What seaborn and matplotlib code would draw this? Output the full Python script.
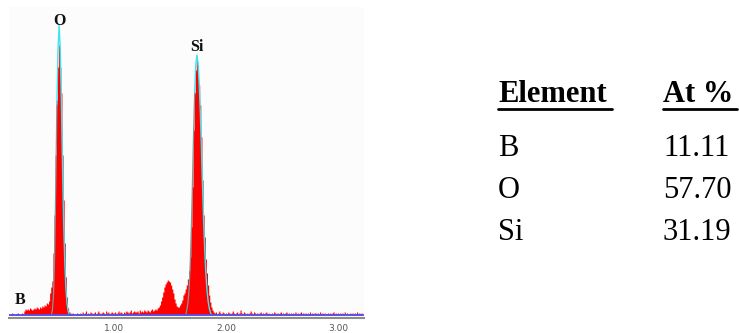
import numpy as np
import pandas as pd
import matplotlib
matplotlib.use("Agg")
import matplotlib.pyplot as plt
import seaborn as sns
from matplotlib.lines import Line2D

sns.set_style("white")

# EDS spectrum, counts per 0.01 keV channel starting at 0.06 keV
start_kev = 0.06
step_kev = 0.01
counts = [
    1, 0, 1, 2,
    1, 0, 1, 1, 2, 1, 0, 1, 2, 1,
    4, 6, 5, 6, 5, 7, 6, 5, 6, 7,
    6, 8, 7, 6, 8, 7, 9, 8, 10, 9,
    12, 11, 14, 22, 28, 34, 62, 100, 160, 215,
    248, 270, 248, 222, 160, 115, 72, 38, 18, 7,
    3, 2, 1, 2, 1, 0, 1, 2, 1, 1,
    2, 1, 3, 1, 2, 4, 1, 2, 1, 3,
    2, 1, 2, 3, 1, 2, 4, 2, 1, 2,
    3, 2, 1, 4, 2, 3, 1, 2, 3, 2,
    2, 3, 1, 2, 4, 2, 3, 2, 1, 3,
    2, 4, 3, 2, 3, 5, 2, 3, 4, 3,
    3, 4, 2, 5, 3, 4, 3, 5, 4, 3,
    5, 4, 3, 5, 6, 4, 5, 6, 5, 7,
    8, 10, 14, 18, 23, 28, 31, 33, 35, 34,
    33, 30, 26, 22, 16, 12, 9, 8, 8, 10,
    12, 15, 20, 22, 26, 30, 36, 44, 58, 88,
    128, 185, 222, 245, 258, 250, 230, 210, 178, 135,
    100, 78, 56, 42, 30, 20, 13, 8, 5, 3,
    2, 3, 1, 2, 4, 2, 1, 3, 2, 1,
    2, 1, 3, 2, 1, 2, 4, 2, 1, 2,
    3, 1, 2, 5, 2, 1, 3, 2, 1, 2,
    1, 2, 4, 2, 1, 3, 2, 1, 2, 1,
    2, 3, 1, 2, 1, 2, 3, 1, 2, 1,
    1, 2, 1, 3, 2, 1, 2, 1, 2, 3,
    1, 2, 1, 2, 3, 1, 2, 1, 2, 1,
    2, 1, 3, 1, 2, 1, 2, 3, 1, 2,
    1, 2, 1, 2, 1, 3, 1, 2, 1, 2,
    2, 1, 2, 1, 3, 1, 2, 1, 2, 1,
    1, 2, 1, 2, 1, 2, 3, 1, 2, 1,
    2, 1, 2, 1, 2, 1, 3, 1, 2, 1,
    1, 2, 1, 2, 1, 2, 1, 3, 1, 2,
    1, 2,
]

# fitted peak profiles (cyan)
o_fit_kev = [0.44, 0.45, 0.46, 0.47, 0.48, 0.49, 0.50, 0.51, 0.52, 0.53, 0.54,
             0.55, 0.56, 0.57, 0.58, 0.59, 0.60]
o_fit_counts = [0, 5, 20, 60, 130, 210, 265, 290, 265, 215, 150, 95, 55, 28, 12, 4, 0]
si_fit_kev = [1.64, 1.65, 1.66, 1.67, 1.68, 1.69, 1.70, 1.71, 1.72, 1.73, 1.74, 1.75,
              1.76, 1.77, 1.78, 1.79, 1.80, 1.81, 1.82, 1.83, 1.84, 1.85, 1.86, 1.87]
si_fit_counts = [0, 5, 12, 25, 50, 85, 130, 180, 222, 250, 260, 252, 232, 205, 170,
                 130, 95, 65, 42, 25, 14, 7, 3, 0]

# peak labels
peak_labels = ["O", "Si", "B"]
peak_label_kev = [0.51, 1.74, 0.16]
peak_label_y = [294, 268, 15]

# quantification table
elements = ["B", "O", "Si"]
at_percent = ["11.11", "57.70", "31.19"]
xtick_vals = [1.0, 2.0, 3.0]
xtick_labels = ["1.00", "2.00", "3.00"]

energy = np.round(start_kev + step_kev * np.arange(len(counts)), 2)
spec = pd.DataFrame({"energy": energy, "counts": np.array(counts, dtype=float)})

fig = plt.figure(figsize=(7.39, 3.33), dpi=100)
ax = fig.add_axes([9 / 739, 15 / 333, 355 / 739, 311 / 333])
ax.set_facecolor("#fcfcfc")

lo = start_kev - step_kev / 2
sns.histplot(data=spec, x="energy", weights="counts", binwidth=step_kev,
             binrange=(lo, lo + step_kev * len(counts)), element="step",
             fill=True, color="#ff0000", alpha=1, linewidth=0, ax=ax)

# fit lines: cyan on the top/right, greyish where it runs inside the red on the left
for fx, fy in [(o_fit_kev, o_fit_counts), (si_fit_kev, si_fit_counts)]:
    k = int(np.argmax(fy))
    sns.lineplot(x=fx[k - 2:], y=fy[k - 2:], color="#3fe3f0", lw=1, ax=ax)
    sns.lineplot(x=fx[:k - 1], y=fy[:k - 1], color="#7d9a9a", lw=0.9, ax=ax)

ax.axhline(0.5, color="#5050f0", lw=1.3)

for lab, xk, yk in zip(peak_labels, peak_label_kev, peak_label_y):
    ax.text(xk, yk, lab, ha="center", va="center", fontsize=11.5, fontweight="bold",
            family="Liberation Serif", color="#111111")

ax.set_xlim(0.0625, 3.232)
ax.set_ylim(-3, 308)
ax.set_xticks(xtick_vals)
ax.set_xticklabels(xtick_labels)
ax.set_yticks([])
ax.set_xlabel("")
ax.set_ylabel("")
for s in ["top", "left", "right"]:
    ax.spines[s].set_visible(False)
ax.spines["bottom"].set_color("#8c8c8c")
ax.spines["bottom"].set_linewidth(1.5)
ax.tick_params(axis="x", length=2, width=1, color="#333333", pad=2,
               labelsize=6.5, labelcolor="#555555")

# table on the right
fig.text(498 / 739, 1 - 102.5 / 333, "Element", fontsize=22, fontweight="bold",
         family="Liberation Serif", va="baseline", ha="left", color="black")
fig.text(663 / 739, 1 - 102.5 / 333, "At %", fontsize=22, fontweight="bold",
         family="Liberation Serif", va="baseline", ha="left", color="black")
fig.add_artist(Line2D([498 / 739, 612 / 739], [1 - 109 / 333] * 2, color="black", lw=2,
                      transform=fig.transFigure))
fig.add_artist(Line2D([663 / 739, 737 / 739], [1 - 109 / 333] * 2, color="black", lw=2,
                      transform=fig.transFigure))
row_base = [156, 198, 240]
for el, val, yb in zip(elements, at_percent, row_base):
    fig.text(498 / 739, 1 - yb / 333, el, fontsize=22, family="Liberation Serif",
             va="baseline", ha="left", color="black")
    fig.text(663 / 739, 1 - yb / 333, val, fontsize=22, family="Liberation Serif",
             va="baseline", ha="left", color="black")

fig.savefig("out.png", dpi=100)
